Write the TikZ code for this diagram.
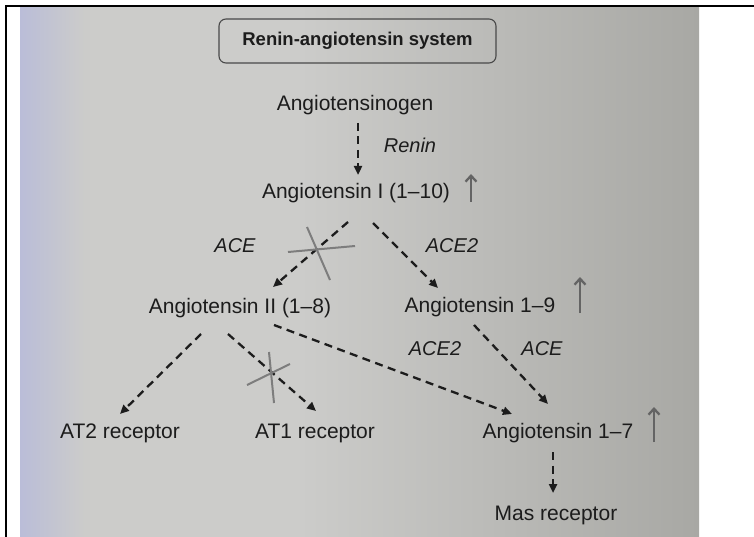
\documentclass[tikz,border=0pt]{standalone}
\usepackage{fontspec}
\setmainfont{Liberation Sans}
\usetikzlibrary{arrows.meta,calc}
\definecolor{ink}{RGB}{28,28,28}
\definecolor{markc}{RGB}{125,125,125}
\definecolor{uparr}{RGB}{100,100,100}
\definecolor{pleft}{RGB}{186,189,216}
\definecolor{pmid}{RGB}{204,204,202}
\definecolor{pright}{RGB}{168,168,164}
\begin{document}
\begin{tikzpicture}[x=1pt,y=-1pt,
 lbl/.style={font=\fontsize{21}{25}\selectfont, text=ink, inner sep=0pt, text height=15pt, text depth=4.5pt},
 enz/.style={font=\fontsize{20}{24}\selectfont\itshape, text=ink, inner sep=0pt, text height=15pt, text depth=4.5pt},
 flow/.style={draw=ink, line width=2.3pt, dash pattern=on 8pt off 5.5pt, -{Triangle[length=9pt,width=8pt]}},
 block/.style={draw=markc, line width=2pt},
 rise/.style={draw=uparr, line width=2.3pt, -{Straight Barb[length=6pt,width=11pt,line width=2.3pt]}},
 titlebox/.style={draw=ink!80, line width=1.1pt, rounded corners=7pt, minimum width=277pt, minimum height=44pt, inner sep=0pt, font=\fontsize{18.5}{22}\selectfont\bfseries, text=ink},
]
\useasboundingbox (0,0) rectangle (754,537);
\fill[white] (0,0) rectangle (754,537);
% photo background
\fill[left color=pleft, right color=pmid] (20,7) rectangle (85,537);
\fill[pmid] (84,7) rectangle (300,537);
\fill[left color=pmid, right color=pright] (299,7) rectangle (699,537);
% frame
\draw[black, line width=2.5pt] (754,6) -- (6,6) -- (6,537);

% nodes
\node[titlebox] (title) at (357.5,41) {Renin-angiotensin system};
\node[lbl] (angen) at (355,105) {Angiotensinogen};
\node[enz] (renin) at (410,147) {Renin};
\node[lbl] (angI) at (356,193) {Angiotensin I (1–10)};
\node[enz] (ace) at (235,247) {ACE};
\node[enz] (aceii) at (452,247) {ACE2};
\node[lbl] (angII) at (240,308) {Angiotensin II (1–8)};
\node[lbl] (ang19) at (480,307) {Angiotensin 1–9};
\node[enz] (aceiib) at (435,350) {ACE2};
\node[enz] (aceb) at (542,350) {ACE};
\node[lbl] (atii) at (120,433) {AT2 receptor};
\node[lbl] (ati) at (315,433) {AT1 receptor};
\node[lbl] (ang17) at (558,433) {Angiotensin 1–7};
\node[lbl] (mas) at (556,515) {Mas receptor};

% connectors
\draw[flow] ($(angen)+(3,18)$) -- ($(angI)+(2,-18)$);
\draw[flow] ($(angI)+(-8,29)$) -- ($(angII)+(33,-21)$);
\draw[flow] ($(angI)+(17,30)$) -- ($(ang19)+(-42,-19)$);
\draw[flow] ($(angII)+(-39,26)$) -- ($(atii)+(0,-19)$);
\draw[flow] ($(angII)+(-12,26)$) -- ($(ati)+(1,-22)$);
\draw[flow] ($(angII)+(34,17)$) -- ($(ang17)+(-46,-19)$);
\draw[flow] ($(ang19)+(-6,18)$) -- ($(ang17)+(-10,-29)$);
\draw[flow] ($(ang17)+(-5,19)$) -- ($(mas)+(-3,-22)$);

% increase arrows
\draw[rise] ($(angI)+(115,9)$) -- ($(angI)+(115,-19)$);
\draw[rise] ($(ang19)+(100,6)$) -- ($(ang19)+(100,-30)$);
\draw[rise] ($(ang17)+(96,9)$) -- ($(ang17)+(96,-26)$);

% blocking crosses
\draw[block] (288,252) -- (355,246);
\draw[block] (307,227) -- (330,280);
\draw[block] (247,385) -- (290,364);
\draw[block] (269,352) -- (274,403);
\end{tikzpicture}
\end{document}
